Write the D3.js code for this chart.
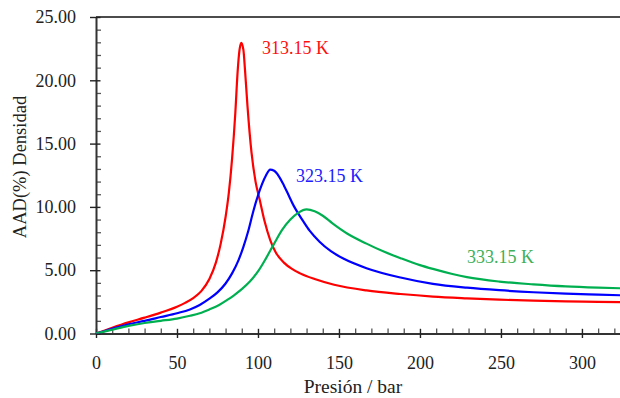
<!DOCTYPE html>
<html>
<head>
<meta charset="utf-8">
<script src="https://cdn.jsdelivr.net/npm/d3@7/dist/d3.min.js"></script>
<style>
  html, body { margin: 0; padding: 0; background: #fff; }
  svg { display: block; }
  text { font-family: "Liberation Serif", "DejaVu Serif", serif; }
</style>
</head>
<body>
<svg id="chart" width="620" height="398"></svg>
<script>
// AAD(%) of density vs pressure for three isotherms
const p313 = [0, 5, 10, 20, 30, 40, 50, 55, 60, 65, 70, 74, 77, 80, 82, 84, 86, 87.5, 88.6, 89.7, 91, 92, 93.5, 96, 98.5, 101, 104, 107.5, 111, 116, 121, 126, 135, 147, 167, 188, 208, 229, 249, 270, 290, 310, 330];
const aad313 = [0, 0.22, 0.45, 0.88, 1.25, 1.65, 2.12, 2.42, 2.8, 3.35, 4.3, 5.6, 7.1, 9.2, 11.1, 13.8, 17.4, 20.8, 22.4, 22.96, 22.4, 20.8, 18.0, 14.3, 12.0, 10.6, 8.9, 7.4, 6.4, 5.6, 5.1, 4.75, 4.3, 3.85, 3.4, 3.12, 2.92, 2.78, 2.67, 2.59, 2.54, 2.5, 2.46];

const p323 = [0, 5, 10, 20, 30, 40, 50, 58, 64, 70, 75, 80, 84, 88, 91, 94, 97, 100, 102.5, 105, 107.5, 110, 113, 116, 119, 122, 125, 128, 132, 138, 145, 153, 167, 188, 208, 229, 249, 270, 290, 310, 330];
const aad323 = [0, 0.18, 0.37, 0.73, 1.0, 1.3, 1.6, 1.9, 2.25, 2.75, 3.25, 3.95, 4.75, 5.8, 6.85, 8.1, 9.6, 10.9, 11.8, 12.5, 12.94, 12.85, 12.4, 11.7, 10.9, 10.1, 9.45, 8.85, 8.1, 7.25, 6.5, 5.9, 5.16, 4.42, 3.92, 3.62, 3.42, 3.26, 3.15, 3.07, 3.0];

const p333 = [0, 5, 10, 20, 30, 40, 50, 58, 64, 70, 76, 81, 85, 90, 95, 100, 105, 110, 115, 120, 125, 130, 135, 140, 146, 155, 167, 178, 188, 200, 208, 220, 229, 249, 270, 290, 310, 330];
const aad333 = [0, 0.15, 0.3, 0.6, 0.83, 1.0, 1.18, 1.4, 1.6, 1.9, 2.25, 2.65, 3.0, 3.5, 4.1, 4.9, 5.95, 7.1, 8.2, 9.0, 9.55, 9.8, 9.65, 9.3, 8.7, 7.9, 7.1, 6.45, 5.95, 5.4, 5.1, 4.7, 4.45, 4.1, 3.88, 3.72, 3.62, 3.55];

const seriesNames = ["313.15 K", "323.15 K", "333.15 K"];
const seriesColors = ["#ff0000", "#0000ff", "#00b050"];
const labelColors = ["#ff1010", "#2020ff", "#40b058"];
const labelPos = [[102.5, 22.1], [123.5, 11.95], [229, 5.6]]; // [pressure, AAD] anchor of each label

const xMajorTicks = [0, 50, 100, 150, 200, 250, 300];
const yMajorTicks = [0, 5, 10, 15, 20, 25];

const svg = d3.select("#chart");
const mLeft = 96, mTop = 17, mBottom = 333.5, mRight = 620;

const x = d3.scaleLinear().domain([0, 323.5]).range([mLeft, mRight]);
const y = d3.scaleLinear().domain([0, 25]).range([mBottom, mTop]);

// clip for curves
svg.append("defs").append("clipPath").attr("id", "plot")
  .append("rect").attr("x", mLeft).attr("y", mTop).attr("width", mRight - mLeft).attr("height", mBottom - mTop);

// top frame line
svg.append("line").attr("x1", mLeft).attr("x2", mRight).attr("y1", mTop).attr("y2", mTop)
  .attr("stroke", "#111").attr("stroke-width", 1.5);

// minor ticks (inside)
const xMinor = d3.range(0, 330, 10).filter(v => v % 50 !== 0);
const yMinor = d3.range(0, 25, 1).filter(v => v % 5 !== 0);

svg.append("g").attr("transform", `translate(0,${mBottom})`)
  .call(d3.axisTop(x).tickValues(xMinor).tickSize(5).tickFormat(""))
  .call(g => g.select(".domain").remove())
  .call(g => g.selectAll("line").attr("stroke", "#555").attr("stroke-width", 1.3));

svg.append("g").attr("transform", `translate(${mLeft},0)`)
  .call(d3.axisRight(y).tickValues(yMinor).tickSize(5).tickFormat(""))
  .call(g => g.select(".domain").remove())
  .call(g => g.selectAll("line").attr("stroke", "#555").attr("stroke-width", 1.3));

// major ticks (crossing) with labels
const gx = svg.append("g").attr("transform", `translate(0,${mBottom})`)
  .call(d3.axisBottom(x).tickValues(xMajorTicks).tickSize(4.5).tickSizeOuter(0).tickPadding(18).tickFormat(d3.format("d")));
gx.select(".domain").attr("stroke", "#333").attr("stroke-width", 2);
gx.selectAll(".tick line").attr("y1", -4.7).attr("stroke", "#222").attr("stroke-width", 1.4);
gx.selectAll(".tick text").attr("font-size", 18).attr("fill", "#222")
  .attr("font-family", "Liberation Serif, serif");

const gy = svg.append("g").attr("transform", `translate(${mLeft},0)`)
  .call(d3.axisLeft(y).tickValues(yMajorTicks).tickSize(6).tickSizeOuter(0).tickPadding(14).tickFormat(d3.format(".2f")));
gy.select(".domain").attr("stroke", "#333").attr("stroke-width", 2);
gy.selectAll(".tick line").attr("x2", 4.5).attr("x1", -6).attr("stroke", "#222").attr("stroke-width", 1.4);
gy.selectAll(".tick text").attr("font-size", 18).attr("fill", "#222")
  .attr("font-family", "Liberation Serif, serif");

// curves
const data = [
  d3.zip(p313, aad313),
  d3.zip(p323, aad323),
  d3.zip(p333, aad333)
];
const line = d3.line()
  .x(d => x(d[0]))
  .y(d => y(d[1]))
  .curve(d3.curveMonotoneX);

svg.append("g").attr("clip-path", "url(#plot)")
  .selectAll("path").data(data).join("path")
  .attr("d", line)
  .attr("fill", "none")
  .attr("stroke", (d, i) => seriesColors[i])
  .attr("stroke-width", 2.2)
  .attr("stroke-linejoin", "round");

// series labels
svg.append("g").selectAll("text").data(seriesNames).join("text")
  .attr("x", (d, i) => x(labelPos[i][0]))
  .attr("y", (d, i) => y(labelPos[i][1]))
  .attr("fill", (d, i) => labelColors[i])
  .attr("font-size", 18)
  .text(d => d);

// axis titles
svg.append("text")
  .attr("x", 353).attr("y", 393)
  .attr("text-anchor", "middle")
  .attr("font-size", 19.5).attr("fill", "#222")
  .text("Presión / bar");

svg.append("text")
  .attr("transform", "translate(26,167) rotate(-90)")
  .attr("text-anchor", "middle")
  .attr("font-size", 18.5).attr("fill", "#222")
  .text("AAD(%) Densidad");
</script>
</body>
</html>
